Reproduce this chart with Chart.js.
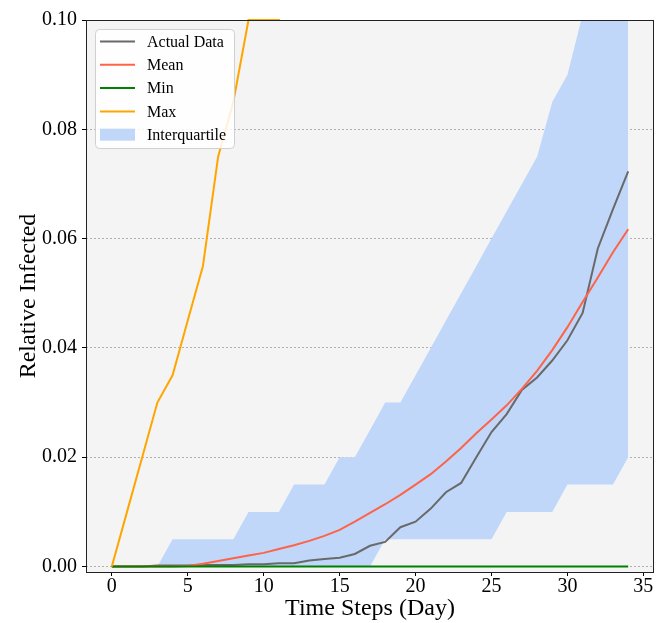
<!DOCTYPE html>
<html>
<head>
<meta charset="utf-8">
<script src="https://cdn.jsdelivr.net/npm/chart.js@4.4.1/dist/chart.umd.min.js"></script>
<style>
  html, body { margin: 0; padding: 0; background: #fff; }
  #wrap { width: 656px; height: 623px; }
</style>
</head>
<body>
<div id="wrap"><canvas id="chart" width="656" height="623"></canvas></div>
<script>
// --- data ---
const days = [0,1,2,3,4,5,6,7,8,9,10,11,12,13,14,15,16,17,18,19,20,21,22,23,24,25,26,27,28,29,30,31,32,33,34];

const actualData = [0,0,0,0.0002,0.0002,0.0002,0.0003,0.0003,0.0003,0.0004,0.0004,0.0006,0.0006,0.0011,0.0014,0.0016,0.0023,0.0038,0.0045,
    0.0072,0.0082,0.0106,0.0136,0.0153,0.0200,0.0246,0.0279,0.0323,0.0346,0.0377,0.0414,0.0464,0.0582,0.0654,0.0723];

const meanData = [0,0,0,0,0,0.0001,0.0005,0.0010,0.0015,0.0020,0.0025,0.0032,0.0039,0.0047,0.0056,0.0067,0.0082,0.0098,0.0114,
    0.0131,0.0150,0.0169,0.0192,0.0217,0.0244,0.0269,0.0295,0.0325,0.0358,0.0396,0.0438,0.0484,0.0529,0.0575,0.0617];

const minData = days.map(() => 0);

const maxData = [0,0.01,0.02,0.03,0.035,0.045,0.055,0.075,0.085,0.1,0.1,0.1,0.12,0.13,0.14,0.15,0.16,0.17,0.18,
    0.19,0.2,0.21,0.22,0.23,0.24,0.25,0.26,0.27,0.28,0.29,0.3,0.31,0.32,0.33,0.34];

const q1Data = [0,0,0,0,0,0,0,0,0,0,0,0,0,0,0,0,0,0,0.005,0.005,0.005,0.005,0.005,0.005,0.005,0.005,
    0.01,0.01,0.01,0.01,0.015,0.015,0.015,0.015,0.02];

const q3Data = [0,0,0,0,0.005,0.005,0.005,0.005,0.005,0.01,0.01,0.01,0.015,0.015,0.015,0.02,0.02,0.025,0.03,0.03,
    0.035,0.04,0.045,0.05,0.055,0.06,0.065,0.07,0.075,0.085,0.09,0.101,0.112,0.123,0.134];

const xTicks = [0, 5, 10, 15, 20, 25, 30, 35];
const yTicks = [0, 0.02, 0.04, 0.06, 0.08, 0.10];

const serif = "'Liberation Serif', 'DejaVu Serif', serif";

function pts(vals) {
    return days.map((d, i) => ({ x: d, y: vals[i] }));
}

// plot background and frame
const framePlugin = {
    id: 'frame',
    beforeDraw(chart) {
        const { ctx, chartArea: a } = chart;
        ctx.save();
        ctx.fillStyle = '#f4f4f4';
        ctx.fillRect(a.left, a.top, a.right - a.left, a.bottom - a.top);
        ctx.restore();
    },
    afterDatasetsDraw(chart) {
        const { ctx, chartArea: a } = chart;
        ctx.save();
        ctx.strokeStyle = '#222';
        ctx.lineWidth = 1;
        ctx.strokeRect(Math.round(a.left) + 0.5, Math.round(a.top) + 0.5,
            Math.round(a.right - a.left) - 1, Math.round(a.bottom - a.top));
        ctx.restore();
    },
};

// matplotlib-like legend box in upper left
const boxLegend = {
    id: 'boxLegend',
    afterDraw(chart) {
        const { ctx } = chart;
        const items = chart.data.datasets.filter(ds => ds.label);
        const x0 = 95, y0 = 29, w = 139, h = 119;
        ctx.save();
        ctx.beginPath();
        ctx.roundRect(x0 + 0.5, y0 + 0.5, w, h, 4);
        ctx.fillStyle = 'rgba(255,255,255,0.85)';
        ctx.fill();
        ctx.strokeStyle = '#d0d0d0';
        ctx.lineWidth = 1;
        ctx.stroke();
        ctx.font = '16px ' + serif;
        ctx.textBaseline = 'middle';
        items.forEach((ds, i) => {
            const cy = 41.5 + i * 23.3;
            if (ds.fill) {
                ctx.fillStyle = ds.backgroundColor;
                ctx.fillRect(100, cy - 6, 35, 12);
            } else {
                ctx.strokeStyle = ds.borderColor;
                ctx.lineWidth = 2;
                ctx.beginPath();
                ctx.moveTo(100, cy);
                ctx.lineTo(135, cy);
                ctx.stroke();
            }
            ctx.fillStyle = '#000';
            ctx.fillText(ds.label, 147, cy + 1);
        });
        ctx.restore();
    },
};

const lineStyle = { pointRadius: 0, borderWidth: 2, fill: false, tension: 0 };

new Chart(document.getElementById('chart').getContext('2d'), {
    type: 'line',
    data: {
        datasets: [
            { label: 'Actual Data', data: pts(actualData), borderColor: '#696969', order: 3, ...lineStyle },
            { label: 'Mean', data: pts(meanData), borderColor: '#ff6347', order: 2, ...lineStyle },
            { label: 'Min', data: pts(minData), borderColor: '#008000', order: 1, ...lineStyle },
            { label: 'Max', data: pts(maxData), borderColor: '#ffa500', order: 0, ...lineStyle,
              clip: { left: 1, top: 1, right: 1, bottom: 1 } },
            { label: 'Interquartile', data: pts(q3Data), borderWidth: 0, pointRadius: 0,
              backgroundColor: 'rgb(192,215,250)', fill: { target: 5 }, order: 4 },
            { label: '', data: pts(q1Data), borderWidth: 0, pointRadius: 0, fill: false, order: 5 },
        ],
    },
    options: {
        responsive: false,
        animation: false,
        layout: { padding: { top: 20, right: 2, left: 0, bottom: 0 } },
        plugins: { legend: { display: false }, tooltip: { enabled: false } },
        scales: {
            x: {
                type: 'linear',
                min: -1.7,
                max: 35.7,
                afterFit(scale) { scale.height = 51; },
                afterBuildTicks(scale) { scale.ticks = xTicks.map(v => ({ value: v })); },
                ticks: { font: { family: serif, size: 20, lineHeight: 1 }, color: '#000', padding: 1, maxRotation: 0 },
                grid: { drawOnChartArea: false, drawTicks: true, tickLength: 4, tickColor: '#000' },
                border: { display: false },
                title: { display: true, text: 'Time Steps (Day)', font: { family: serif, size: 24 }, color: '#000', padding: { top: 0, bottom: 0 } },
            },
            y: {
                min: -0.001,
                max: 0.1,
                afterFit(scale) { scale.width = 86; },
                afterBuildTicks(scale) { scale.ticks = yTicks.map(v => ({ value: v })); },
                ticks: { font: { family: serif, size: 20 }, color: '#000', padding: 5, callback: v => v.toFixed(2) },
                grid: { color: '#b0b0b0', lineWidth: 1, tickBorderDash: [], tickColor: '#000', tickLength: 4 },
                border: { display: false, dash: [2, 2] },
                title: { display: true, text: 'Relative Infected', font: { family: serif, size: 24 }, color: '#000', padding: { top: 14, bottom: 0 } },
            },
        },
    },
    plugins: [framePlugin, boxLegend],
});
</script>
</body>
</html>
